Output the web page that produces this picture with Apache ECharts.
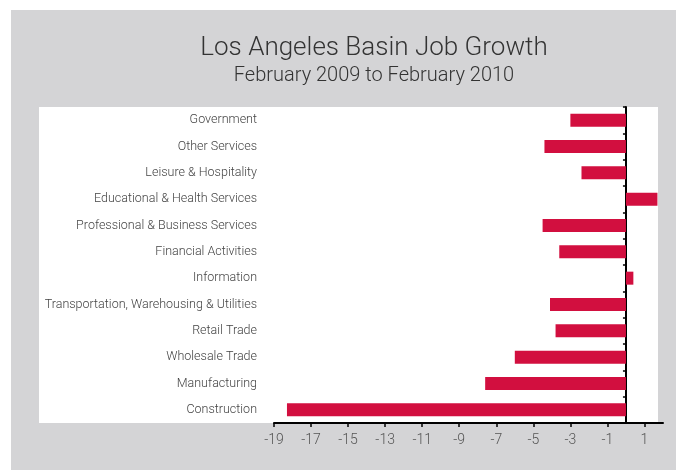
<!DOCTYPE html>
<html>
<head>
<meta charset="utf-8">
<script src="https://cdn.jsdelivr.net/npm/echarts@6/dist/echarts.min.js"></script>
<style>
  html, body { margin: 0; padding: 0; background: #ffffff; }
  #chart { width: 676px; height: 470px; }
</style>
</head>
<body>
<div id="chart"></div>
<script>
// Industry sectors, listed top to bottom
const categories = [
  'Government',
  'Other Services',
  'Leisure & Hospitality',
  'Educational & Health Services',
  'Professional & Business Services',
  'Financial Activities',
  'Information',
  'Transportation, Warehousing & Utilities',
  'Retail Trade',
  'Wholesale Trade',
  'Manufacturing',
  'Construction'
];

// Percent change in jobs, Feb 2009 to Feb 2010 (same order as categories)
const growth = [-3.0, -4.4, -2.4, 1.7, -4.5, -3.6, 0.4, -4.1, -3.8, -6.0, -7.6, -18.3];

// Labelled ticks along the value axis
const tickValues = [-19, -17, -15, -13, -11, -9, -7, -5, -3, -1, 1];

const titleText = 'Los Angeles Basin Job Growth';
const subtitleText = 'February 2009 to February 2010';

const chart = echarts.init(document.getElementById('chart'), null, { renderer: 'canvas' });

const FONT = "Roboto, 'Liberation Sans', Arial, sans-serif";

chart.setOption({
  animation: false,
  backgroundColor: '#ffffff',
  graphic: [
    { type: 'rect', z: -10, shape: { x: 11, y: 10, width: 665, height: 460 }, style: { fill: '#d4d4d6' } },
    { type: 'rect', z: -9, shape: { x: 39, y: 107, width: 619, height: 316 }, style: { fill: '#ffffff' } }
  ],
  title: {
    text: titleText,
    subtext: subtitleText,
    left: 369,
    textAlign: 'center',
    top: 30,
    itemGap: 5,
    textStyle: { fontFamily: FONT, fontSize: 26, fontWeight: 300, color: '#333333' },
    subtextStyle: { fontFamily: FONT, fontSize: 20, fontWeight: 300, color: '#333333' }
  },
  grid: { left: 274, right: 13, top: 107, bottom: 47, containLabel: false, outerBoundsMode: 'none' },
  xAxis: {
    type: 'value',
    min: -19,
    max: 2,
    axisLine: { show: true, onZero: false, lineStyle: { color: '#000000', width: 2 } },
    axisTick: { show: true, customValues: tickValues, length: 4, inside: false, lineStyle: { color: '#000000', width: 1.5 } },
    axisLabel: {
      customValues: tickValues,
      margin: 10,
      fontFamily: FONT,
      fontSize: 14,
      fontWeight: 300,
      color: '#555555'
    },
    splitLine: { show: false }
  },
  yAxis: [
    {
      type: 'category',
      data: categories,
      inverse: true,
      axisLine: { show: false, onZero: false },
      axisTick: { show: false },
      axisLabel: { margin: 17, fontFamily: FONT, fontSize: 12.5, fontWeight: 300, color: '#444444' }
    },
    {
      type: 'category',
      data: categories,
      inverse: true,
      position: 'left',
      axisLine: { show: true, onZero: true, onZeroAxisIndex: 0, lineStyle: { color: '#000000', width: 2 } },
      axisTick: { show: true, length: 3, lineStyle: { color: '#000000', width: 1.5 } },
      axisLabel: { show: false }
    }
  ],
  series: [
    {
      type: 'bar',
      yAxisIndex: 0,
      data: growth,
      barWidth: 13,
      itemStyle: { color: '#d20f3f' }
    }
  ]
});
</script>
</body>
</html>
